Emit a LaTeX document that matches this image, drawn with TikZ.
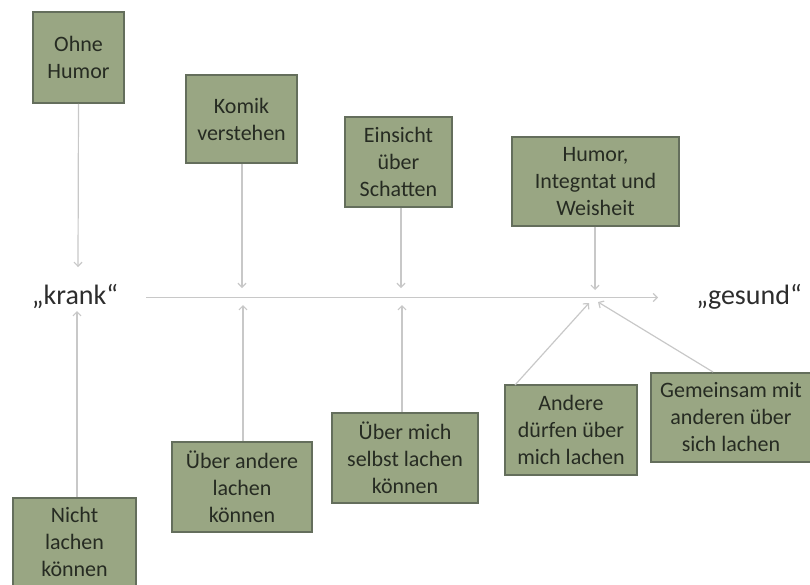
\documentclass[tikz,border=0pt]{standalone}
\usepackage{fontspec}
\setmainfont{Carlito}
\usetikzlibrary{arrows.meta}
\definecolor{boxfill}{RGB}{153,166,131}
\definecolor{boxline}{RGB}{100,110,92}
\definecolor{boxtext}{RGB}{38,43,34}
\definecolor{linegray}{RGB}{200,200,200}
\definecolor{poletext}{RGB}{45,45,45}
\tikzset{
  stepbox/.style={draw=boxline, line width=1.6pt, fill=boxfill, text=boxtext,
    align=center, inner sep=2pt,
    font=\fontsize{22}{27}\selectfont},
  pole/.style={text=poletext, font=\fontsize{28}{32}\selectfont, anchor=base},
  conn/.style={draw=linegray, line width=1.2pt, -{Straight Barb[length=4pt,width=8pt]}}
}
\begin{document}
\begin{tikzpicture}[x=1pt,y=-1pt]
\useasboundingbox (0,0) rectangle (810,584);
% boxes
\node[stepbox, minimum width=91pt, minimum height=91pt] (ohne) at (78.5,57.5) {Ohne\\Humor};
\node[stepbox, minimum width=111pt, minimum height=88pt] (komik) at (241.5,119) {Komik\\verstehen};
\node[stepbox, minimum width=107pt, minimum height=90pt] (einsicht) at (398.5,162) {Einsicht\\über\\Schatten};
\node[stepbox, minimum width=167pt, minimum height=89pt] (humor) at (595.5,181.5) {Humor,\\Integntat und\\Weisheit};
\node[stepbox, minimum width=123pt, minimum height=88pt] (nicht) at (74.5,542) {Nicht\\lachen\\können};
\node[stepbox, minimum width=140pt, minimum height=90pt] (andere) at (242,487) {Über andere\\lachen\\können};
\node[stepbox, minimum width=146pt, minimum height=90pt] (mich) at (405,458) {Über mich\\selbst lachen\\können};
\node[stepbox, minimum width=132pt, minimum height=90pt] (duerfen) at (571,430) {Andere\\dürfen über\\mich lachen};
\node[stepbox, minimum width=160pt, minimum height=89pt] (gemeinsam) at (731,417.5) {Gemeinsam mit\\anderen über\\sich lachen};
% poles
\node[pole] (krank) at (75,304) {„krank“};
\node[pole] (gesund) at (749,304) {„gesund“};
% axis
\coordinate (axstart) at (146,297.5);
\coordinate (axend) at (658,297.5);
\draw[conn] (axstart) -- (axend);
% end points
\coordinate (e1) at (78,267);
\coordinate (e2) at (77,311);
\coordinate (e3) at (242,288);
\coordinate (e4) at (243,305);
\coordinate (e5) at (401,288);
\coordinate (e6) at (402,305);
\coordinate (e7) at (595,290);
\coordinate (e8) at (589,303);
\coordinate (e9) at (598,302);
\coordinate (s8) at (515,385);
\coordinate (s9) at (713,372);
% connectors
\draw[conn] (ohne.south) -- (e1);
\draw[conn] (nicht.north -| e2) -- (e2);
\draw[conn] (komik.south -| e3) -- (e3);
\draw[conn] (andere.north -| e4) -- (e4);
\draw[conn] (einsicht.south -| e5) -- (e5);
\draw[conn] (mich.north -| e6) -- (e6);
\draw[conn] (humor.south -| e7) -- (e7);
\draw[conn] (s8) -- (e8);
\draw[conn] (s9) -- (e9);
\end{tikzpicture}
\end{document}
